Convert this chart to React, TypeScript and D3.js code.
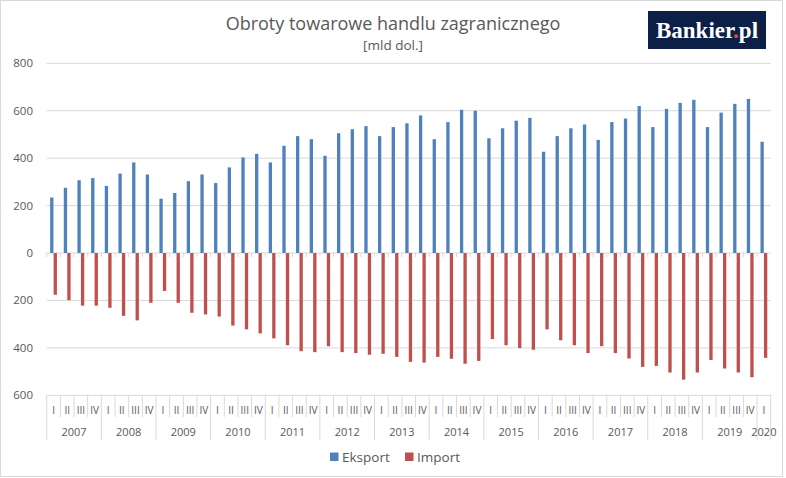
import React from "react";
import * as d3 from "d3";

const years = ["2007","2008","2009","2010","2011","2012","2013","2014","2015","2016","2017","2018","2019","2020"];
const quarterNames = ["I","II","III","IV"];
const eksport = [
  234, 275, 307, 316,
  283, 335, 382, 331,
  229, 253, 303, 331,
  295, 361, 403, 418,
  382, 452, 493, 480,
  410, 505, 522, 535,
  493, 531, 547, 580,
  480, 552, 604, 600,
  484, 526, 558, 570,
  427, 493, 526, 542,
  477, 552, 567, 620,
  531, 608, 633, 646,
  531, 592, 629, 650,
  469,
];
const importVals = [
  176, 199, 222, 222,
  231, 265, 284, 210,
  160, 210, 252, 259,
  268, 306, 322, 339,
  360, 389, 414, 418,
  393, 418, 422, 429,
  425, 438, 459, 462,
  438, 446, 467, 455,
  363, 389, 401, 408,
  322, 368, 389, 422,
  393, 422, 445, 480,
  476, 504, 534, 504,
  451, 487, 504, 524,
  442,
];
const yTicks = [-600, -400, -200, 0, 200, 400, 600, 800];

const W = 786, H = 478;
const BLUE = "#4f81bd", RED = "#c0504d", TXT = "#595959", GRID = "#d9d9d9";
const FONT = "'Open Sans', 'Noto Sans', sans-serif";

export default function App() {
  const cats = eksport.map((_, i) => `${years[Math.floor(i / 4)]}-${quarterNames[i % 4]}`);
  const x = d3.scaleBand<string>().domain(cats).range([46.7, 770.7]).padding(0);
  const y = d3.scaleLinear().domain([-600, 800]).range([395.3, 63.3]);
  const inner = d3.scaleBand<string>().domain(["e", "i"]).range([-3.4, 3.4]).paddingInner(0.05);
  const bw = x.bandwidth();
  const axTop = y(-600);
  const qBottom = 417;
  const yBottom = 440;

  return (
    <svg width={W} height={H} style={{ position: "absolute", left: 0, top: 0, background: "#fff" }} fontFamily={FONT}>
      <rect x={0.5} y={0.5} width={782} height={476} fill="#fff" stroke={GRID} strokeWidth={1} />
      <text x={393} y={30} textAnchor="middle" fontSize={18} fill={TXT}>Obroty towarowe handlu zagranicznego</text>
      <text x={393} y={50} textAnchor="middle" fontSize={13.5} fill={TXT}>[mld dol.]</text>

      <rect x={648} y={11} width={118} height={38} fill="#0c1f47" />
      <text x={707} y={38} textAnchor="middle" fontSize={23} fontWeight="bold" fill="#fff" fontFamily="'Liberation Serif', 'DejaVu Serif', serif">
        Bankier<tspan fill="#e8472b">.</tspan>pl
      </text>

      {yTicks.map(t => (
        <g key={t}>
          {t !== -600 && <line x1={46.7} x2={770.7} y1={y(t)} y2={y(t)} stroke={GRID} strokeWidth={1} />}
          <text x={33} y={y(t)} dy="0.35em" textAnchor="end" fontSize={11.5} fill={TXT}>{Math.abs(t)}</text>
        </g>
      ))}

      {cats.map((c) => (
        <line key={"tk" + c} x1={x(c)!} x2={x(c)!} y1={y(0)} y2={y(0) + 4} stroke={GRID} />
      ))}

      {cats.map((c, i) => {
        const cx = x(c)! + bw / 2;
        return (
          <g key={c}>
            <rect x={cx + inner("e")!} width={inner.bandwidth()} y={y(eksport[i])} height={y(0) - y(eksport[i])} fill={BLUE} />
            <rect x={cx + inner("i")!} width={inner.bandwidth()} y={y(0)} height={y(-importVals[i]) - y(0)} fill={RED} />
          </g>
        );
      })}

      <line x1={46.7} x2={770.7} y1={axTop} y2={axTop} stroke={GRID} />
      {cats.map((c, i) => {
        const x0 = x(c)!;
        const isYear = i % 4 === 0;
        return (
          <g key={"ax" + c}>
            <line x1={x0} x2={x0} y1={axTop} y2={isYear ? yBottom : qBottom} stroke={GRID} />
            <text x={x0 + bw / 2} y={410} dy="0.35em" textAnchor="middle" fontSize={10} fill={TXT}>{quarterNames[i % 4]}</text>
          </g>
        );
      })}
      <line x1={770.7} x2={770.7} y1={axTop} y2={yBottom} stroke={GRID} />
      {years.map((yr, k) => {
        const first = x(cats[k * 4])!;
        const lastIdx = Math.min(k * 4 + 3, cats.length - 1);
        const last = x(cats[lastIdx])! + bw;
        return (
          <text key={yr} x={(first + last) / 2} y={432} dy="0.35em" textAnchor="middle" fontSize={11} fill={TXT}>{yr}</text>
        );
      })}

      <rect x={330} y={452.5} width={8.5} height={8.5} fill={BLUE} />
      <text x={342} y={457} dy="0.35em" fontSize={13.5} fill={TXT}>Eksport</text>
      <rect x={405} y={452.5} width={8.5} height={8.5} fill={RED} />
      <text x={417} y={457} dy="0.35em" fontSize={13.5} fill={TXT}>Import</text>
    </svg>
  );
}
